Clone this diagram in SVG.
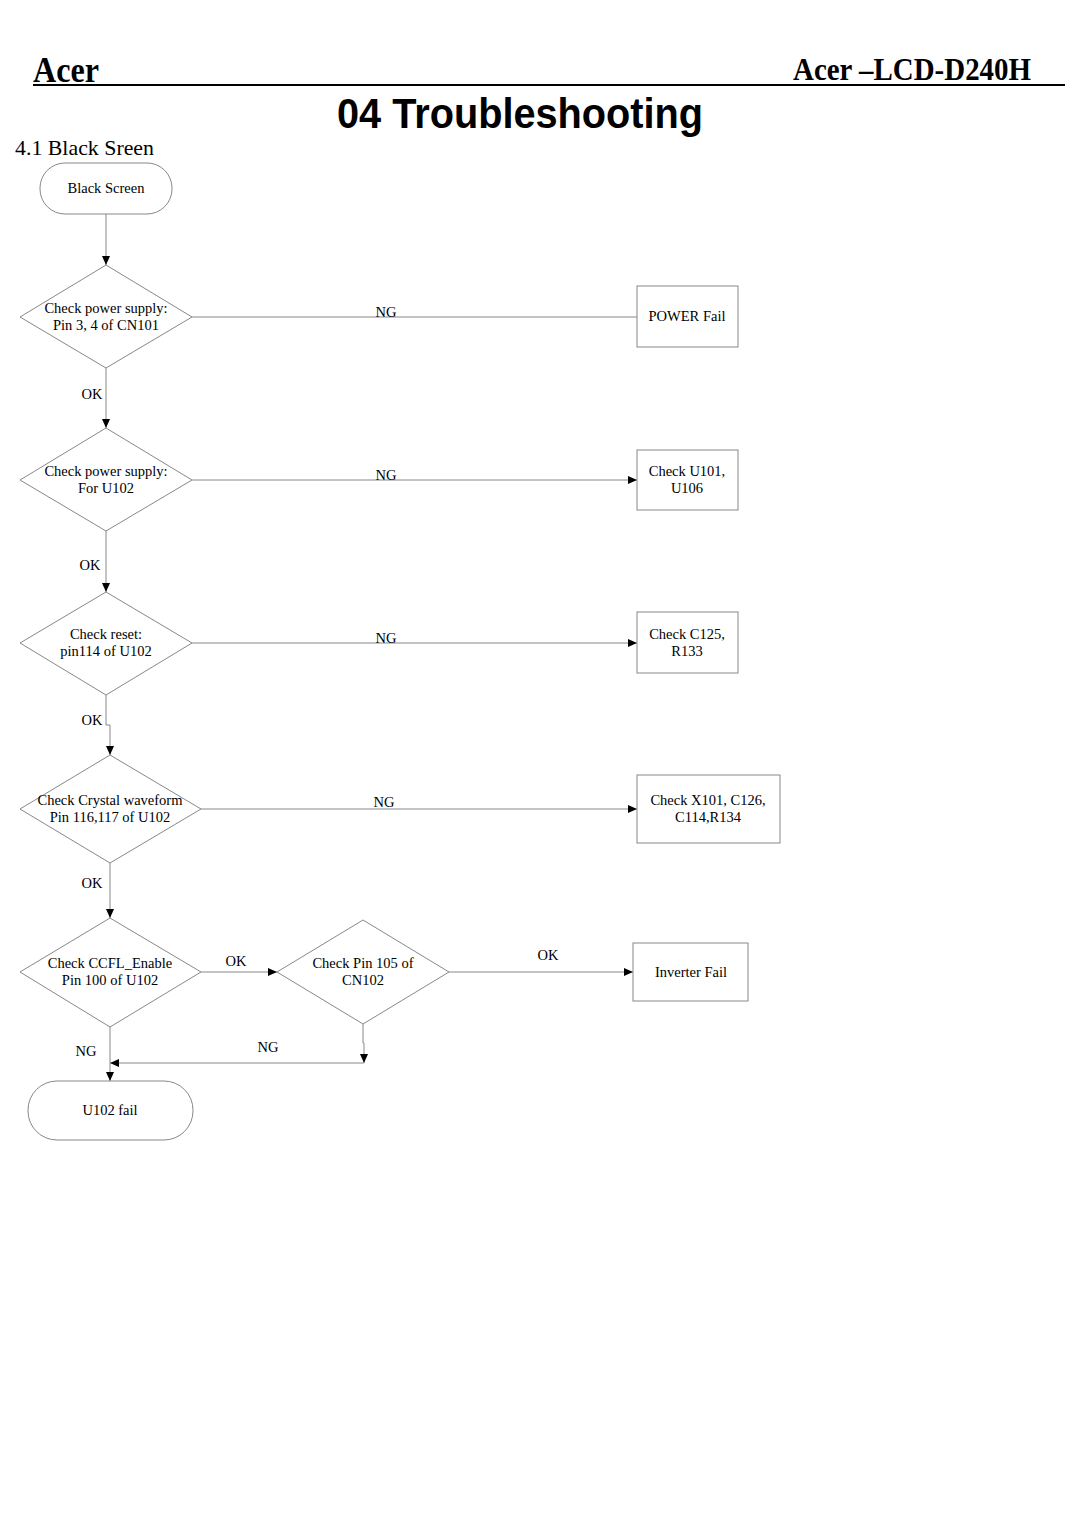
<svg xmlns="http://www.w3.org/2000/svg" width="1080" height="1528" viewBox="0 0 1080 1528">
<style>
.t{font-family:"Liberation Serif","Times New Roman",serif;font-size:14.5px;fill:#000;text-anchor:middle;dominant-baseline:central}
.s{fill:#fff;stroke:#888;stroke-width:1}
.c{fill:none;stroke:#888;stroke-width:1}
.ca{fill:none;stroke:#888;stroke-width:1;marker-end:url(#ah)}
</style>
<defs>
<marker id="ah" markerWidth="9" markerHeight="8" refX="9" refY="4" orient="auto" markerUnits="userSpaceOnUse">
<path d="M0,0 L9,4 L0,8 Z" fill="#000"/>
</marker>
</defs>
<rect width="1080" height="1528" fill="#fff"/>
<g id="header">
<text x="33" y="82" font-family="Liberation Serif,serif" font-weight="bold" font-size="35" textLength="66" lengthAdjust="spacingAndGlyphs">Acer</text>
<text x="793" y="80" font-family="Liberation Serif,serif" font-weight="bold" font-size="32" textLength="238" lengthAdjust="spacingAndGlyphs">Acer –LCD-D240H</text>
<line x1="33" y1="85" x2="1065" y2="85" stroke="#000" stroke-width="2"/>
<text x="520" y="128" font-family="Liberation Sans,Arial,sans-serif" font-weight="bold" font-size="42" text-anchor="middle" textLength="366" lengthAdjust="spacingAndGlyphs">04 Troubleshooting</text>
<text x="15" y="155" font-family="Liberation Serif,serif" font-size="22" textLength="139" lengthAdjust="spacingAndGlyphs">4.1 Black Sreen</text>
</g>
<g id="connectors">
<path class="ca" d="M106,214 L106,265"/>
<path class="c" d="M192,317 L637,317"/>
<path class="ca" d="M106,368 L106,428"/>
<path class="ca" d="M192,480 L637,480"/>
<path class="ca" d="M106,531 L106,592"/>
<path class="ca" d="M192,643 L637,643"/>
<path class="ca" d="M106,695 L106,725 L110,725 L110,755"/>
<path class="ca" d="M201,809 L637,809"/>
<path class="ca" d="M110,863 L110,918"/>
<path class="ca" d="M201,972 L277,972"/>
<path class="ca" d="M449,972 L633,972"/>
<path class="ca" d="M363,1024 L363,1043 L364,1043 L364,1063"/>
<path class="ca" d="M364,1063 L110,1063"/>
<path class="ca" d="M110,1027 L110,1081"/>
<text class="t" x="386" y="312">NG</text>
<text class="t" x="92" y="394">OK</text>
<text class="t" x="386" y="475">NG</text>
<text class="t" x="90" y="565">OK</text>
<text class="t" x="386" y="638">NG</text>
<text class="t" x="92" y="720">OK</text>
<text class="t" x="384" y="802">NG</text>
<text class="t" x="92" y="883">OK</text>
<text class="t" x="236" y="961">OK</text>
<text class="t" x="548" y="955">OK</text>
<text class="t" x="268" y="1047">NG</text>
<text class="t" x="86" y="1051">NG</text>
</g>
<g id="n_start">
<rect class="s" x="40" y="163" width="132" height="51" rx="25" ry="25"/>
<text class="t" x="106" y="188">Black Screen</text>
</g>
<g id="n_d1">
<polygon class="s" points="106,265 192,317 106,368 20,317"/>
<text class="t" x="106" y="308">Check power supply:</text>
<text class="t" x="106" y="325">Pin 3, 4 of CN101</text>
</g>
<g id="n_b1">
<rect class="s" x="637" y="286" width="101" height="61"/>
<text class="t" x="687" y="316">POWER Fail</text>
</g>
<g id="n_d2">
<polygon class="s" points="106,428 192,480 106,531 20,480"/>
<text class="t" x="106" y="471">Check power supply:</text>
<text class="t" x="106" y="488">For U102</text>
</g>
<g id="n_b2">
<rect class="s" x="637" y="450" width="101" height="60"/>
<text class="t" x="687" y="471">Check U101,</text>
<text class="t" x="687" y="488">U106</text>
</g>
<g id="n_d3">
<polygon class="s" points="106,592 192,643 106,695 20,643"/>
<text class="t" x="106" y="634">Check reset:</text>
<text class="t" x="106" y="651">pin114 of U102</text>
</g>
<g id="n_b3">
<rect class="s" x="637" y="612" width="101" height="61"/>
<text class="t" x="687" y="634">Check C125,</text>
<text class="t" x="687" y="651">R133</text>
</g>
<g id="n_d4">
<polygon class="s" points="110,755 201,809 110,863 20,809"/>
<text class="t" x="110" y="800">Check Crystal waveform</text>
<text class="t" x="110" y="817">Pin 116,117 of U102</text>
</g>
<g id="n_b4">
<rect class="s" x="637" y="775" width="143" height="68"/>
<text class="t" x="708" y="800">Check X101, C126,</text>
<text class="t" x="708" y="817">C114,R134</text>
</g>
<g id="n_d5">
<polygon class="s" points="110,918 201,972 110,1027 20,972"/>
<text class="t" x="110" y="963">Check CCFL_Enable</text>
<text class="t" x="110" y="980">Pin 100 of U102</text>
</g>
<g id="n_d6">
<polygon class="s" points="363,920 449,972 363,1024 277,972"/>
<text class="t" x="363" y="963">Check Pin 105 of</text>
<text class="t" x="363" y="980">CN102</text>
</g>
<g id="n_b5">
<rect class="s" x="633" y="943" width="115" height="58"/>
<text class="t" x="691" y="972">Inverter Fail</text>
</g>
<g id="n_end">
<rect class="s" x="28" y="1081" width="165" height="59" rx="29" ry="29"/>
<text class="t" x="110" y="1110">U102 fail</text>
</g>
</svg>
